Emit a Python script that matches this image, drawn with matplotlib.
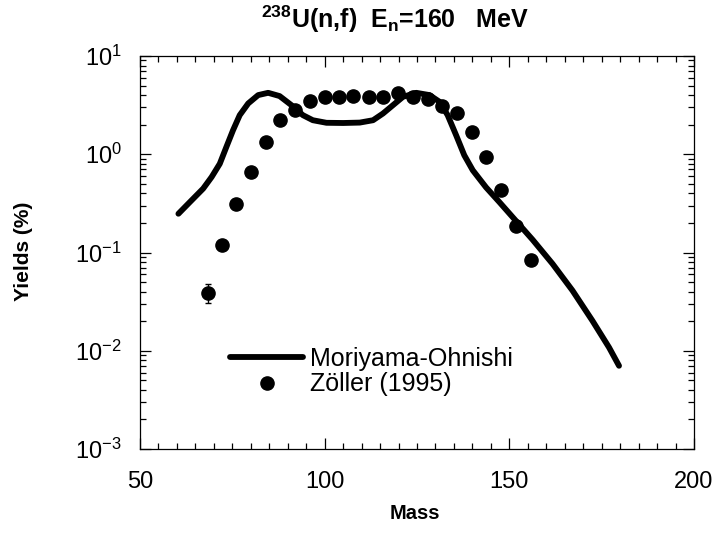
import math
import matplotlib
matplotlib.use("Agg")
import matplotlib.pyplot as plt
from matplotlib.ticker import LogLocator, MultipleLocator, FuncFormatter, NullFormatter

plt.rcParams["font.family"] = ["Liberation Sans", "DejaVu Sans"]
plt.rcParams["mathtext.fontset"] = "custom"
plt.rcParams["mathtext.rm"] = "Liberation Sans"
plt.rcParams["mathtext.it"] = "Liberation Sans"
plt.rcParams["mathtext.bf"] = "Liberation Sans:bold"

# Moriyama-Ohnishi calculation
calc_mass = [60.4, 63.5, 67.1, 69.4, 71.6, 73.4, 75.2, 77.0, 79.3, 82.0, 84.7,
             87.8, 91.0, 94.1, 96.8, 100.5, 105.0, 109.5, 113.1, 115.8, 118.5,
             121.2, 124.8, 128.4, 131.1, 133.3, 135.6, 137.8, 140.1, 143.7,
             147.3, 150.9, 156.3, 161.7, 167.1, 172.5, 177.0, 179.7]
calc_yield = [0.248, 0.326, 0.447, 0.587, 0.80, 1.19, 1.76, 2.5, 3.29, 4.0, 4.22,
              3.91, 3.16, 2.5, 2.22, 2.09, 2.08, 2.1, 2.22, 2.6, 3.16, 3.84, 4.22,
              4.0, 3.42, 2.5, 1.56, 0.977, 0.687, 0.46, 0.326, 0.229, 0.135,
              0.0767, 0.041, 0.0202, 0.0108, 0.00703]

# Zöller (1995) measurement
exp_mass = [68.3, 72.1, 76.1, 80.0, 84.0, 87.8, 91.9, 95.9, 100.0, 103.9, 107.8,
            112.0, 115.8, 119.8, 123.9, 127.9, 131.8, 135.8, 139.9, 143.7, 147.8,
            151.8, 155.9]
exp_yield = [0.0388, 0.118, 0.314, 0.66, 1.34, 2.22, 2.81, 3.47, 3.79, 3.84, 3.94,
             3.84, 3.79, 4.16, 3.79, 3.62, 3.09, 2.64, 1.69, 0.94, 0.43, 0.184,
             0.083]
exp_err_lo = [0.0079] + [0.0] * 22
exp_err_hi = [0.0095] + [0.0] * 22

fig = plt.figure(figsize=(7.19, 5.33), dpi=100)
ax = fig.add_axes([140 / 719, 1 - 449 / 533, 554 / 719, 393 / 533])

ax.plot(calc_mass, calc_yield, color="black", lw=4.2, solid_capstyle="round",
        solid_joinstyle="round", label="Moriyama-Ohnishi")
ax.errorbar(exp_mass, exp_yield, yerr=[exp_err_lo, exp_err_hi], fmt="none",
            ecolor="black", elinewidth=1.0, capsize=2.5)
ax.plot(exp_mass, exp_yield, "o", color="black", ms=9.5, label="Zöller (1995)")

ax.set_yscale("log")
ax.set_xlim(50, 200)
ax.set_ylim(1e-3, 1e1)

ax.xaxis.set_major_locator(MultipleLocator(50))
ax.xaxis.set_minor_locator(MultipleLocator(5))
ax.yaxis.set_major_locator(LogLocator(base=10, numticks=10))
ax.yaxis.set_minor_locator(LogLocator(base=10, subs=range(2, 10), numticks=20))
ax.yaxis.set_minor_formatter(NullFormatter())
ax.yaxis.set_major_formatter(
    FuncFormatter(lambda v, p: r"$\mathregular{10^{%d}}$" % round(math.log10(v))))

ax.tick_params(which="both", direction="in", top=True, right=True, width=0.9,
               colors="black")
ax.tick_params(which="major", length=8)
ax.tick_params(which="minor", length=4)
ax.tick_params(axis="x", which="major", labelsize=17, pad=16)
ax.tick_params(axis="y", which="major", labelsize=17, pad=13)

for s in ax.spines.values():
    s.set_linewidth(0.9)

ax.set_xlabel("Mass", fontsize=14.5, fontweight="bold")
ax.xaxis.set_label_coords(0.497, -0.140)
ax.set_ylabel("Yields (%)", fontsize=15, fontweight="bold")
ax.yaxis.set_label_coords(-0.193, 0.504)

fig.text(395 / 719, 1 - 28 / 533,
         r"$^{\mathbf{238}}$U(n,f)  E$_{\mathbf{n}}$=160   MeV",
         fontsize=18, fontweight="bold", ha="center", va="baseline")

ax.legend(loc="upper left", bbox_to_anchor=(0.163, 0.259), frameon=False,
          fontsize=18, handlelength=2.9, handletextpad=0.3, labelspacing=0.05,
          borderaxespad=0, borderpad=0)

fig.savefig("out.png", dpi=100)
